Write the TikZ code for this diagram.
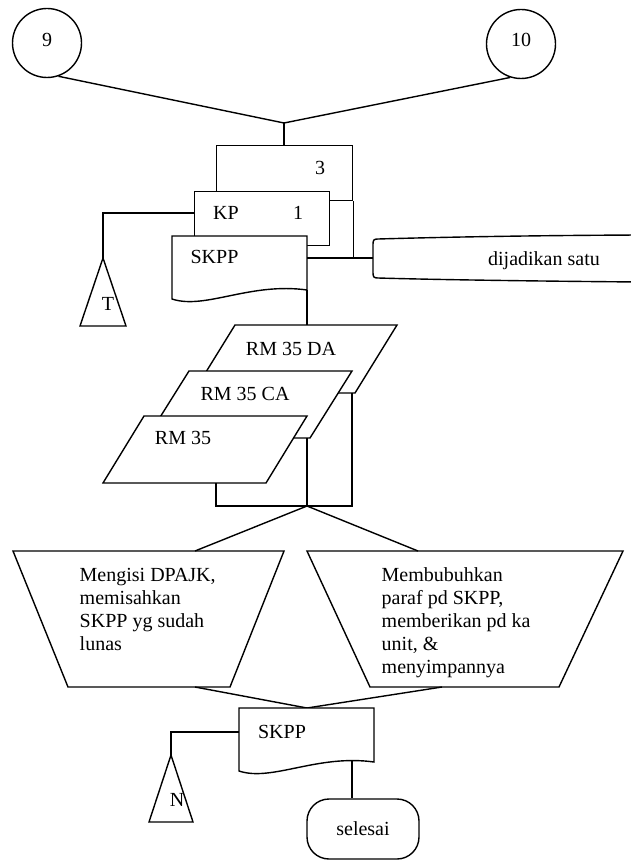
\documentclass[tikz,border=0pt]{standalone}
\usepackage{fontspec}
\setmainfont{Liberation Serif}
\begin{document}
\begin{tikzpicture}[x=1pt,y=-1pt,line width=1.4pt,
  lbl/.style={font=\fontsize{20}{23}\selectfont,inner sep=0pt,anchor=base},
  blk/.style={font=\fontsize{20}{23}\selectfont,inner sep=0pt,anchor=north west,align=left},
  shp/.style={draw,fill=white},
  box/.style={draw,fill=white,inner sep=0pt,anchor=north west}]
\useasboundingbox (0,0) rectangle (630,861);

% off-page connectors 9 and 10
\node[draw,circle,minimum size=69pt,inner sep=0pt] (c9) at (47,43) {};
\node[draw,circle,minimum size=69pt,inner sep=0pt] (c10) at (521,44) {};
\node[lbl] (t9) at (47,46.7) {9};
\node[lbl] (t10) at (521,47) {10};
\coordinate (jtop) at (284,123);
\draw (c9.-71) -- (jtop) -- (c10.-108);

% document stack: 3, KP 1, SKPP
\node[box,minimum width=136pt,minimum height=55pt] (b3) at (216,145) {};
\draw (jtop) -- (jtop |- b3.north);
\node[box,minimum width=135pt,minimum height=54pt] (kp) at (194,191) {};
\draw[shp] (172,236) -- (307,236) -- (307,290)
  .. controls (250,282) and (205,310) .. (172,299) -- cycle;
\node[lbl] (t3) at (320,174.6) {3};
\node[lbl] (tkp) at (226,219.6) {KP};
\node[lbl] (t1) at (298,219.6) {1};
\node[lbl] (ts1) at (214.5,263.6) {SKPP};
\coordinate (s1se) at (307,290);
\coordinate (s1e) at (307,258);

% file T
\coordinate (kpT) at (194,213);
\coordinate (tA) at (103,258);
\draw (kpT) -| (tA);
\draw (tA) -- (126,326) -- (80,326) -- cycle;
\node[lbl] (tT) at (108,310.6) {T};

% manual operation: dijadikan satu
\coordinate (djw) at (373,258);
\draw (640,235) .. controls (520,235.5) and (430,237.5) .. (378,239)
  .. controls (374,239) and (373,240) .. (373,244) -- (373,273)
  .. controls (373,277) and (374,278) .. (378,278)
  .. controls (430,279.5) and (520,281) .. (640,282);
\node[lbl] (tdj) at (544,265) {dijadikan satu};
\draw (s1e) -- (djw);
\draw (b3.south east) -- (b3.south east |- djw);

% RM 35 forms
\coordinate (daT) at (307,325);
\draw (s1se) -- (daT);
\draw[shp] (235,325) -- (397,325) -- (355,393) -- (193,393) -- cycle;
\draw[shp] (189,371) -- (352,371) -- (310,438) -- (147,438) -- cycle;
\draw[shp] (144,416) -- (307,416) -- (266,483) -- (103,483) -- cycle;
\node[lbl] (tda) at (291,355.6) {RM 35 DA};
\node[lbl] (tca) at (245,400.6) {RM 35 CA};
\node[lbl] (trm) at (183,444.6) {RM 35};
\coordinate (daB) at (352,393);
\coordinate (caB) at (307,438);
\coordinate (rmB) at (216,483);
\coordinate (jmid) at (307,506);
\draw (daB) -- (daB |- jmid) -- (rmB |- jmid) -- (rmB);
\draw (caB) -- (jmid);

% manual operations
\draw (13,551) -- (284,551) -- (230,687) -- (68,687) -- cycle;
\draw (307,551) -- (623,551) -- (559,687) -- (370,687) -- cycle;
\node[blk] (txl) at (79,568) {Mengisi DPAJK,\\memisahkan\\SKPP yg sudah\\lunas};
\node[blk] (txr) at (381,567) {Membubuhkan\\paraf pd SKPP,\\memberikan pd ka\\unit, \&\\menyimpannya};
\coordinate (lT) at (195,551);
\coordinate (rT) at (418,551);
\coordinate (lB) at (195,687);
\coordinate (rB) at (442,687);
\coordinate (jlow) at (307,708);
\draw (lT) -- (jmid) -- (rT);
\draw (lB) -- (jlow) -- (rB);

% final SKPP document
\draw[shp] (239,708) -- (374,708) -- (374,762)
  .. controls (317,754) and (272,782) .. (239,771) -- cycle;
\node[lbl] (ts2) at (282,738.6) {SKPP};

% file N
\coordinate (s2w) at (239,732);
\coordinate (nA) at (171,755);
\draw (s2w) -| (nA);
\draw (nA) -- (193,822) -- (149,822) -- cycle;
\node[lbl] (tN) at (177,806.6) {N};

% terminator
\node[draw,rounded corners=22pt,minimum width=112pt,minimum height=60pt,inner sep=0pt,
  font=\fontsize{20}{23}\selectfont] (sel) at (363,829) {selesai};
\coordinate (s2b) at (352,761);
\draw (s2b) -- (s2b |- sel.north);
\end{tikzpicture}
\end{document}
